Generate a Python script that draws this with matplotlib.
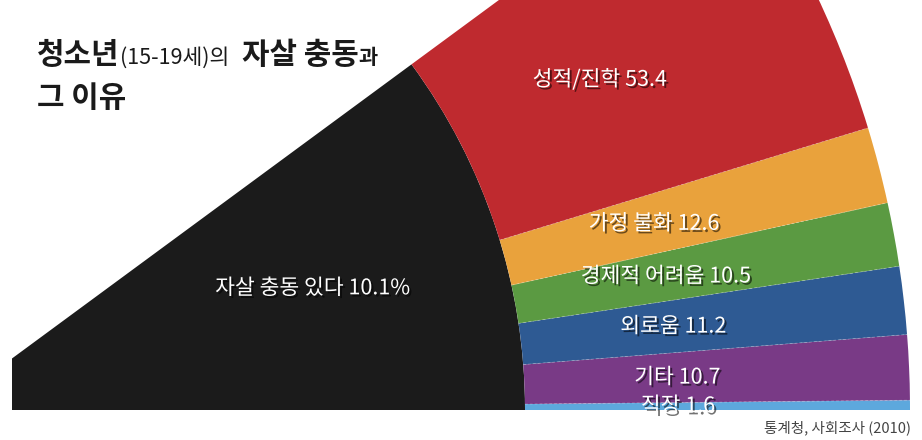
import numpy as np
import matplotlib
matplotlib.use("Agg")
import matplotlib.pyplot as plt
from matplotlib.patches import Wedge, Rectangle
import matplotlib.patheffects as pe

plt.rcParams['font.family'] = ['Noto Sans CJK KR', 'DejaVu Sans']

# Share of teens reporting suicidal impulse (percent of all teens)
impulse_label = '자살 충동 있다'
impulse_share = 10.1

# Reasons given by those with the impulse (percent, sums to 100)
reasons = ['성적/진학', '가정 불화', '경제적 어려움', '외로움', '기타', '직장']
reason_shares = [53.4, 12.6, 10.5, 11.2, 10.7, 1.6]
reason_colors = ['#BF2A2F', '#E9A23C', '#5B9A42', '#2E5A93', '#793A86', '#5DA8DD']

# title pieces: text, size, weight, gap before (px)
title_parts = [('청소년', 21.5, 'bold', 0), ('(15-19세)의', 15.5, 'normal', 0),
               ('자살 충동', 21.5, 'bold', 13), ('과', 15, 'bold', 0)]
title_line2 = '그 이유'
source = '통계청, 사회조사 (2010)'

W, H = 922, 440
fig = plt.figure(figsize=(W / 100, H / 100), dpi=100)
ax = fig.add_axes([0, 0, 1, 1])
ax.set_xlim(0, W)
ax.set_ylim(0, H)
ax.set_aspect('equal')
ax.axis('off')

# fan geometry (pixel units, y upward)
cx, cy = -58, 30
r_in, r_out = 583, 968
span = impulse_share / 100 * 360.0

clip = Rectangle((12, 0), W - 12, H, transform=ax.transData)

black = Wedge((cx, cy), r_in, 0, span, facecolor='#1B1B1B', edgecolor='none')
ax.add_patch(black)
black.set_clip_path(clip)

shadow = [pe.SimplePatchShadow(offset=(1.5, -1.5), shadow_rgbFace='black', alpha=0.55),
          pe.Normal()]

# reasons stacked from the bottom edge upward, in reverse order
theta = 0.0
label_r = 736
for name, val, col in reversed(list(zip(reasons, reason_shares, reason_colors))):
    t1 = theta
    t2 = theta + val / 100 * span
    w = Wedge((cx, cy), r_out, t1, t2, width=r_out - r_in,
              facecolor=col, edgecolor='none')
    ax.add_patch(w)
    mid = np.deg2rad((t1 + t2) / 2)
    ax.text(cx + label_r * np.cos(mid), cy + label_r * np.sin(mid),
            f'{name} {val}', color='white', fontsize=15.5, fontweight='medium',
            ha='center', va='center', path_effects=shadow)
    theta = t2

# faint separators between bands
theta = 0.0
for val in reversed(reason_shares[1:]):
    theta += val / 100 * span
    a = np.deg2rad(theta)
    ax.plot([cx + r_in * np.cos(a), cx + r_out * np.cos(a)],
            [cy + r_in * np.sin(a), cy + r_out * np.sin(a)],
            color='white', lw=0.5, alpha=0.35, ls=(0, (4, 3)))

mid = np.deg2rad(span / 2)
ax.text(cx + 390 * np.cos(mid), cy + 390 * np.sin(mid),
        f'{impulse_label} {impulse_share}%', color='white', fontsize=15.5,
        fontweight='medium', ha='center', va='center', path_effects=shadow)

# title with mixed sizes on a common baseline
fig.canvas.draw()
renderer = fig.canvas.get_renderer()
x = 37
base_y = H - 64
for s, fs, wt, gap in title_parts:
    x += gap
    t = ax.text(x, base_y, s, fontsize=fs, fontweight=wt, color='#1A1A1A',
                ha='left', va='baseline')
    bb = t.get_window_extent(renderer=renderer)
    x += bb.width
ax.text(37, H - 107, title_line2, fontsize=21.5, fontweight='bold', color='#1A1A1A',
        ha='left', va='baseline')

ax.text(911, H - 428, source, fontsize=10.5, fontweight='medium', color='#444444',
        ha='right', va='center')

fig.savefig('out.png', dpi=100)
